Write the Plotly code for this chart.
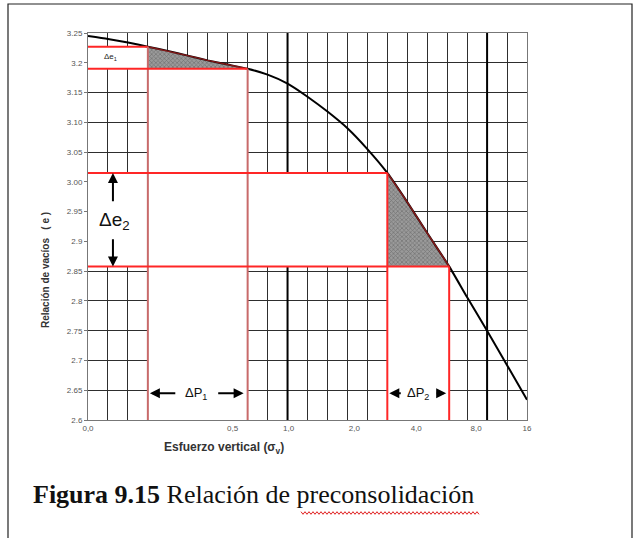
import plotly.graph_objects as go

# Void-ratio curve, x in grid units of the chart (log-like stress spacing)
curve_u = [0, 1, 2, 3, 4, 5, 6, 7, 8, 9, 10, 11, 12, 13, 14, 15, 16, 17, 18.1, 19, 20, 21, 22]
curve_e = [3.245, 3.240, 3.234, 3.227, 3.220, 3.212, 3.204, 3.197, 3.190, 3.180, 3.165,
           3.143, 3.118, 3.090, 3.055, 3.015, 2.966, 2.914, 2.858, 2.806, 2.750, 2.692, 2.634]

# Construction points on the curve: (stress unit, void ratio)
p1_start, p1_end = 3, 8
p2_start, p2_end = 15, 18.1

x_tick_vals = [0, 7.25, 10.05, 13.35, 16.45, 19.45, 22]
x_tick_text = ["0,0", "0,5", "1,0", "2,0", "4,0", "8,0", "16"]
y_tick_vals = [3.25, 3.20, 3.15, 3.10, 3.05, 3.00, 2.95, 2.90, 2.85, 2.80, 2.75, 2.70, 2.65, 2.60]
y_tick_text = ["3.25", "3.2", "3.15", "3.10", "3.05", "3.00", "2.95", "2.9", "2.85", "2.8",
               "2.75", "2.7", "2.65", "2.6"]

X_MIN, X_MAX = 0, 22
Y_MIN, Y_MAX = 2.6, 3.25

W, H = 641, 538
ML, MR, MT, MB = 88, 114, 33, 118
PW, PH = W - ML - MR, H - MT - MB


def px(x):
    return (x - ML) / PW


def py(y):
    return (H - MB - y) / PH


def e_at(u):
    return curve_e[curve_u.index(u)]


e1a, e1b = e_at(p1_start), e_at(p1_end)
e2a, e2b = e_at(p2_start), e_at(p2_end)

RED = "#ff2626"
RED_MUTED = "#c86a6a"
GRID = "#2e2e2e"

fig = go.Figure()

# hatched areas between curve and construction lines
for a, b in [(p1_start, p1_end), (p2_start, p2_end)]:
    i0, i1 = curve_u.index(a), curve_u.index(b)
    xs = curve_u[i0:i1 + 1] + [a, a]
    ys = curve_e[i0:i1 + 1] + [curve_e[i1], curve_e[i0]]
    fig.add_trace(go.Scatter(
        x=xs, y=ys, fill="toself", mode="lines",
        line=dict(color="rgba(0,0,0,0)", width=0),
        fillcolor="#8c8c8c",
        fillpattern=dict(shape="x", fgcolor="#4a4a4a", bgcolor="#9a9a9a", size=3, solidity=0.4),
        hoverinfo="skip", showlegend=False))

# compression curve
fig.add_trace(go.Scatter(x=curve_u, y=curve_e, mode="lines",
                         line=dict(color="black", width=2, shape="spline", smoothing=0.5),
                         hoverinfo="skip", showlegend=False))

# red edge along the curve inside the hatched areas
for a, b in [(p1_start, p1_end), (p2_start, p2_end)]:
    i0, i1 = curve_u.index(a), curve_u.index(b)
    fig.add_trace(go.Scatter(x=curve_u[i0:i1 + 1], y=curve_e[i0:i1 + 1], mode="lines",
                             line=dict(color="rgba(220,40,40,0.6)", width=1.5),
                             hoverinfo="skip", showlegend=False))

# construction lines: horizontal to the e-axis, vertical down to the stress axis
for u, col in [(p1_start, RED_MUTED), (p1_end, RED_MUTED), (p2_start, RED), (p2_end, RED)]:
    e = e_at(u)
    fig.add_trace(go.Scatter(x=[X_MIN, u], y=[e, e], mode="lines",
                             line=dict(color=RED, width=2), hoverinfo="skip", showlegend=False))
    fig.add_trace(go.Scatter(x=[u, u], y=[e, Y_MIN], mode="lines",
                             line=dict(color=col, width=2), hoverinfo="skip", showlegend=False))

shapes = []
# heavier grid lines
for u in [10, 20]:
    shapes.append(dict(type="line", xref="x", yref="y", x0=u, x1=u, y0=Y_MIN, y1=Y_MAX,
                       line=dict(color="black", width=2), layer="between"))
# blank (grid-free) regions
blank = [
    (X_MIN, p1_start, e1b, e1a),
    (p1_start, p1_end, Y_MIN, e1b),
    (X_MIN, p2_start, e2b, e2a),
    (p2_start, p2_end, Y_MIN, e2b),
]
for x0, x1, y0, y1 in blank:
    shapes.append(dict(type="rect", xref="x", yref="y", x0=x0, x1=x1, y0=y0, y1=y1,
                       fillcolor="white", line=dict(width=0), layer="between"))

# outer frame
shapes.append(dict(type="rect", xref="paper", yref="paper",
                   x0=px(8), x1=px(632), y0=py(560), y1=py(4),
                   line=dict(color="#222", width=1.2), fillcolor="rgba(0,0,0,0)", layer="above"))

# wavy underline under the caption word
x0w, x1w, yw, step = 301, 479, 513, 2.0
pts = []
k = 0
xw = x0w
while xw <= x1w:
    pts.append((px(xw), py(yw + (1.3 if k % 2 else -1.3))))
    xw += step
    k += 1
path = "M " + " L ".join(f"{a:.5f},{b:.5f}" for a, b in pts)
shapes.append(dict(type="path", xref="paper", yref="paper", path=path,
                   line=dict(color="#e02020", width=1), layer="above"))

annotations = []
arrow = dict(showarrow=True, arrowhead=2, arrowsize=1, arrowwidth=2, arrowcolor="black",
             axref="x", ayref="y", text="")
# Δe2 arrows and label
annotations.append(dict(x=1.25, y=e2a, ax=1.25, ay=2.965, **arrow))
annotations.append(dict(x=1.25, y=e2b, ax=1.25, ay=2.906, **arrow))
annotations.append(dict(x=1.35, y=2.934, text="Δe<sub>2</sub>", showarrow=False,
                        xanchor="center", yanchor="middle",
                        font=dict(family="Liberation Sans", size=19, color="#111")))
# Δe1 label in the small box
annotations.append(dict(x=1.15, y=3.209, text="Δe<sub>1</sub>", showarrow=False,
                        xanchor="center", yanchor="middle",
                        font=dict(family="Liberation Sans", size=8, color="#222")))
# ΔP1 and ΔP2 with double arrows
y_dp = 2.645
annotations.append(dict(x=3.1, y=y_dp, ax=4.45, ay=y_dp, **arrow))
annotations.append(dict(x=7.8, y=y_dp, ax=6.45, ay=y_dp, **arrow))
annotations.append(dict(x=5.4, y=y_dp, text="ΔP<sub>1</sub>", showarrow=False,
                        xanchor="center", yanchor="middle",
                        font=dict(family="Liberation Sans", size=13, color="#111")))
annotations.append(dict(x=15.1, y=y_dp, ax=15.75, ay=y_dp, **arrow))
annotations.append(dict(x=17.95, y=y_dp, ax=17.4, ay=y_dp, **arrow))
annotations.append(dict(x=16.55, y=y_dp, text="ΔP<sub>2</sub>", showarrow=False,
                        xanchor="center", yanchor="middle",
                        font=dict(family="Liberation Sans", size=13, color="#111")))
# axis titles
annotations.append(dict(xref="paper", yref="paper", x=px(45), y=py(270), textangle=-90,
                        xanchor="center", yanchor="middle",
                        text="<b>Relación de vacíos   ( e )</b>", showarrow=False,
                        font=dict(family="Liberation Sans", size=10, color="#333")))
annotations.append(dict(xref="paper", yref="paper", x=px(224), y=py(448),
                        xanchor="center", yanchor="middle",
                        text="<b>Esfuerzo vertical (σ<sub>v</sub>)</b>", showarrow=False,
                        font=dict(family="Liberation Sans", size=12, color="#333")))
# figure caption
annotations.append(dict(xref="paper", yref="paper", x=px(31), y=py(494),
                        xanchor="left", yanchor="middle",
                        text="<b>Figura 9.15</b> Relación de preconsolidación", showarrow=False,
                        font=dict(family="Liberation Serif", size=26, color="#111")))

fig.update_layout(
    width=W, height=H, autosize=False,
    margin=dict(l=ML, r=MR, t=MT, b=MB, pad=0),
    paper_bgcolor="white", plot_bgcolor="white",
    shapes=shapes, annotations=annotations,
    xaxis=dict(range=[X_MIN, X_MAX], tickvals=x_tick_vals, ticktext=x_tick_text,
               showgrid=False, zeroline=False, ticks="",
               minor=dict(dtick=1, tick0=0, showgrid=True, gridcolor=GRID, gridwidth=1),
               showline=True, linecolor="#777", linewidth=1, mirror=True,
               tickfont=dict(family="Liberation Sans", size=8, color="#555")),
    yaxis=dict(range=[Y_MIN, Y_MAX], tickvals=y_tick_vals, ticktext=y_tick_text,
               showgrid=True, gridcolor=GRID, gridwidth=1, zeroline=False,
               ticks="outside", ticklen=3, tickcolor="#777",
               showline=True, linecolor="#777", linewidth=1, mirror=True,
               tickfont=dict(family="Liberation Sans", size=8, color="#555")),
)

fig.write_html("out.html")
